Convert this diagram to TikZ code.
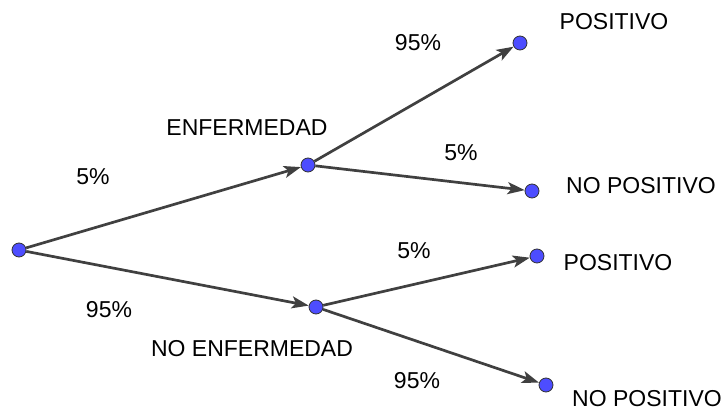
\documentclass[tikz,border=0pt]{standalone}
\usepackage{fontspec}
\setmainfont{Liberation Sans}
\usetikzlibrary{arrows.meta,positioning}

\definecolor{dotblue}{RGB}{77,77,255}
\definecolor{edgegray}{RGB}{64,64,64}

\tikzset{
  dot/.style={circle, draw=black!80, fill=dotblue, line width=0.8pt, inner sep=0pt, minimum size=14pt},
  txt/.style={font=\fontsize{23}{27}\selectfont, inner sep=0pt},
  branch/.style={draw=edgegray, line width=2.7pt, -{Stealth[length=17pt,width=12pt,inset=4pt]}}
}

\begin{document}
\begin{tikzpicture}[x=1pt,y=-1pt]

  \useasboundingbox (0,0) rectangle (726,411);

  % Define nodes

  % root
  \node[dot] (root) at (19,250) {} ; %

  % first level
  \node[dot] (enf)   at (308,165) {} ; %
  \node[dot] (noenf) at (316,307) {} ; %

  % second level
  \node[dot] (pa) at (520,43)  {} ; %
  \node[dot] (na) at (532,191) {} ; %
  \node[dot] (pb) at (537,256) {} ; %
  \node[dot] (nb) at (546,385) {} ; %

  % level labels
  \node[txt] (lenf)   at (247,128) {ENFERMEDAD} ; %
  \node[txt] (lnoenf) at (252,349) {NO ENFERMEDAD} ; %
  \node[txt] (lpa) at (614,22)  {POSITIVO} ; %
  \node[txt] (lna) at (641,186) {NO POSITIVO} ; %
  \node[txt] (lpb) at (618,263) {POSITIVO} ; %
  \node[txt] (lnb) at (647,399) {NO POSITIVO} ; %

  % probabilities
  \node[txt] (p1) at (93,177)  {5\%} ; %
  \node[txt] (p2) at (109,310) {95\%} ; %
  \node[txt] (p3) at (418,43)  {95\%} ; %
  \node[txt] (p4) at (461,153) {5\%} ; %
  \node[txt] (p5) at (414,251) {5\%} ; %
  \node[txt] (p6) at (417,381) {95\%} ; %

  % branches
  \draw[branch] (root) -- (enf) ;
  \draw[branch] (root) -- (noenf) ;
  \draw[branch] (enf) -- (pa) ;
  \draw[branch] (enf) -- (na) ;
  \draw[branch] (noenf) -- (pb) ;
  \draw[branch] (noenf) -- (nb) ;

\end{tikzpicture}
\end{document}
